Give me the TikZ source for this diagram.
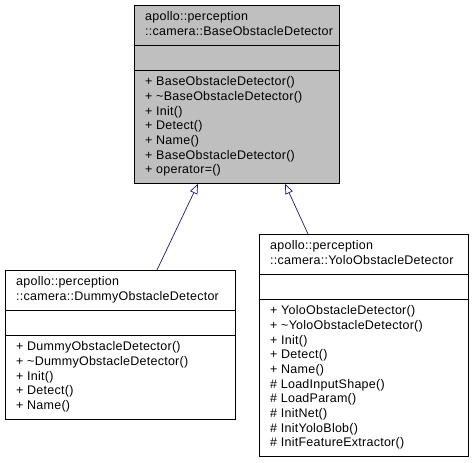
\documentclass[tikz,border=0pt]{standalone}
\usepackage{fontspec}
\setmainfont{Liberation Sans}[LetterSpace=2]
\usetikzlibrary{arrows.meta}
\definecolor{edgeblue}{HTML}{191970}
\definecolor{basegray}{HTML}{BFBFBF}
\begin{document}
\begin{tikzpicture}[x=1pt,y=-1pt]
	\def\lh{14.7}
	\tikzstyle{classbox} = [draw, rectangle, inner sep=0pt, anchor=north west, line width=0.8pt];
	\tikzstyle{label} = [inner sep=0pt, anchor=mid west, font=\fontsize{12.5}{14}\selectfont];
	\tikzstyle{inherit} = [draw=edgeblue, line width=0.7pt, {Triangle[open, length=10pt, width=8pt]}-];
	\useasboundingbox (0,0) rectangle (474,463);
	% base class
	\node[classbox, fill=basegray, minimum width=205pt, minimum height=178pt] (base) at (134,5) {};
	\draw (base.north west) ++(0,40.5) -- ++(205,0) ++(-205,25) -- ++(205,0);
	\node[label] at ([shift={(11,13)}]base.north west) {apollo::perception};
	\node[label] at ([shift={(11,27.5)}]base.north west) {::camera::BaseObstacleDetector};
	\foreach \m [count=\i from 0] in {+ BaseObstacleDetector(), + \textasciitilde BaseObstacleDetector(), + Init(), + Detect(), + Name(), + BaseObstacleDetector(), {+ operator=()}}
	{
		\node[label] at ([shift={(11,78+\i*\lh)}]base.north west) {\m};
	}
	% dummy detector
	\node[classbox, minimum width=230pt, minimum height=149pt] (dummy) at (5,270) {};
	\draw (dummy.north west) ++(0,40.5) -- ++(230,0) ++(-230,25) -- ++(230,0);
	\node[label] at ([shift={(11,13)}]dummy.north west) {apollo::perception};
	\node[label] at ([shift={(11,27.5)}]dummy.north west) {::camera::DummyObstacleDetector};
	\foreach \m [count=\i from 0] in {+ DummyObstacleDetector(), + \textasciitilde DummyObstacleDetector(), + Init(), + Detect(), + Name()}
	{
		\node[label] at ([shift={(11,78+\i*\lh)}]dummy.north west) {\m};
	}
	% yolo detector
	\node[classbox, minimum width=209pt, minimum height=222pt] (yolo) at (259,234) {};
	\draw (yolo.north west) ++(0,40.5) -- ++(209,0) ++(-209,25) -- ++(209,0);
	\node[label] at ([shift={(11,13)}]yolo.north west) {apollo::perception};
	\node[label] at ([shift={(11,27.5)}]yolo.north west) {::camera::YoloObstacleDetector};
	\foreach \m [count=\i from 0] in {+ YoloObstacleDetector(), + \textasciitilde YoloObstacleDetector(), + Init(), + Detect(), + Name(), \# LoadInputShape(), \# LoadParam(), \# InitNet(), \# InitYoloBlob(), \# InitFeatureExtractor()}
	{
		\node[label] at ([shift={(11,78+\i*\lh)}]yolo.north west) {\m};
	}
	% inheritance
	\draw[inherit] ([xshift=64pt]base.south west) -- ([xshift=152pt]dummy.north west);
	\draw[inherit] ([xshift=151pt]base.south west) -- ([xshift=49pt]yolo.north west);
\end{tikzpicture}
\end{document}
